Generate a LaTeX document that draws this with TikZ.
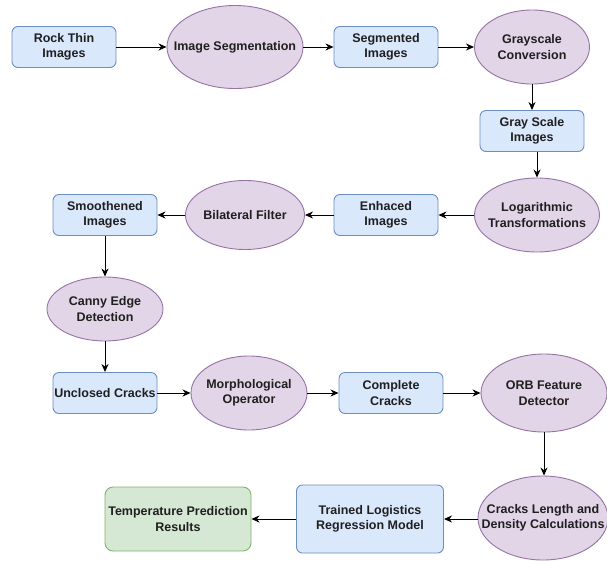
\documentclass[tikz,border=0pt]{standalone}
\usepackage{fontspec}
\setmainfont{Liberation Sans}
\usetikzlibrary{shapes.geometric,arrows.meta}
\definecolor{bfill}{HTML}{DAE8FC}
\definecolor{bstroke}{HTML}{6C8EBF}
\definecolor{pfill}{HTML}{E1D5E7}
\definecolor{pstroke}{HTML}{9673A6}
\definecolor{gfill}{HTML}{D5E8D4}
\definecolor{gstroke}{HTML}{82B366}
\begin{document}
\begin{tikzpicture}[x=1pt,y=-1pt,
  txt/.style={align=center,font=\fontsize{12.5}{15.5}\selectfont\bfseries,text=black!88,inner sep=0pt},
  bluebox/.style={txt,draw=bstroke,fill=bfill,rectangle,rounded corners=6pt,line width=0.9pt,minimum width=104pt,minimum height=41pt},
  greenbox/.style={txt,draw=gstroke,fill=gfill,rectangle,rounded corners=8pt,line width=0.9pt},
  ell/.style={draw=pstroke,fill=pfill,ellipse,line width=0.9pt,inner sep=0pt},
  arr/.style={-{Stealth[length=8pt,width=7pt,inset=2.5pt]},line width=1pt,black}
]
\useasboundingbox (0,0) rectangle (607,560);

\node[bluebox] (rock) at (64,47) {Rock Thin\\Images};
\node[ell,minimum width=136pt,minimum height=83pt,label={[txt]center:Image Segmentation}] (seg) at (235,47) {};
\node[bluebox] (segi) at (386,47) {Segmented\\Images};
\node[ell,minimum width=115pt,minimum height=74pt,label={[txt]center:Grayscale\\Conversion}] (gc) at (532,47) {};
\node[bluebox] (gi) at (532,131) {Gray Scale\\Images};
\node[ell,minimum width=125pt,minimum height=74pt,label={[txt]center:Logarithmic\\Transformations}] (log) at (537,215) {};
\node[bluebox] (enh) at (386,215) {Enhaced\\Images};
\node[ell,minimum width=119pt,minimum height=69pt,label={[txt]center:Bilateral Filter}] (bil) at (245,215) {};
\node[bluebox] (smo) at (105,215) {Smoothened\\Images};
\node[ell,minimum width=116pt,minimum height=64pt,label={[txt]center:Canny Edge\\Detection}] (can) at (105,309) {};
\node[bluebox] (unc) at (105,393) {Unclosed Cracks};
\node[ell,minimum width=116pt,minimum height=74pt,label={[txt]center:Morphological\\Operator}] (mor) at (249,393) {};
\node[bluebox] (com) at (391,393) {Complete\\Cracks};
\node[ell,minimum width=126pt,minimum height=78pt,label={[txt]center:ORB Feature\\Detector}] (orb) at (544,393) {};
\node[ell,minimum width=130pt,minimum height=84pt,label={[txt]center:Cracks Length and\\Density Calculations}] (crk) at (543,518) {};
\node[bluebox,minimum width=147pt,minimum height=68pt] (trn) at (370,519) {Trained Logistics\\Regression Model};
\node[greenbox,minimum width=146pt,minimum height=64pt] (tmp) at (178,519) {Temperature Prediction\\Results};

\draw[arr] (rock) -- (seg);
\draw[arr] (seg) -- (segi);
\draw[arr] (segi) -- (gc);
\draw[arr] (gc) -- (gi);
\draw[arr] (gi.south -| log) -- (log);
\draw[arr] (log) -- (enh);
\draw[arr] (enh) -- (bil);
\draw[arr] (bil) -- (smo);
\draw[arr] (smo) -- (can);
\draw[arr] (can) -- (unc);
\draw[arr] (unc) -- (mor);
\draw[arr] (mor) -- (com);
\draw[arr] (com) -- (orb);
\draw[arr] (orb) -- (crk.north -| orb);
\draw[arr] (crk.west |- trn) -- (trn);
\draw[arr] (trn) -- (tmp);
\end{tikzpicture}
\end{document}
